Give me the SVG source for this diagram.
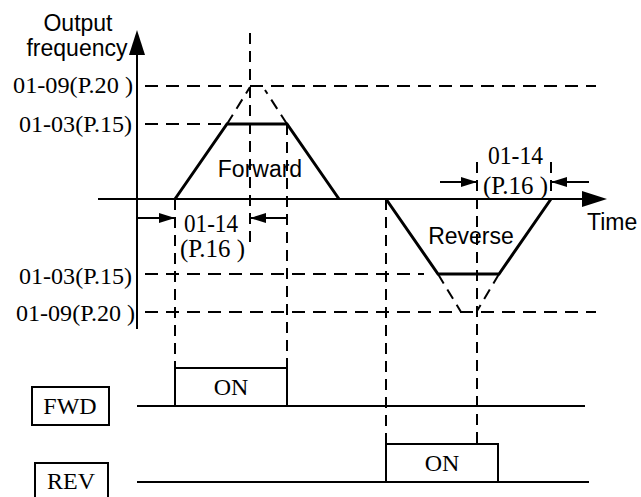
<svg xmlns="http://www.w3.org/2000/svg" width="641" height="497" viewBox="0 0 641 497">
<style>
.sans{font-family:"Liberation Sans",Arial,sans-serif;font-size:23px;fill:#000}
.serif{font-family:"Liberation Serif","Times New Roman",serif;font-size:24px;fill:#000}
.big{font-size:25px}
.ax{stroke:#000;stroke-width:2;fill:none}
.thick{stroke:#000;stroke-width:3;fill:none;stroke-linejoin:miter}
.dash{stroke:#000;stroke-width:2;fill:none;stroke-dasharray:13 8}
.vdash{stroke:#000;stroke-width:2;fill:none;stroke-dasharray:11 7}
.box{stroke:#000;stroke-width:2;fill:#fff}
.sig{stroke:#000;stroke-width:2;fill:none}
</style>
<defs>
<marker id="ah" viewBox="0 0 16 10" refX="16" refY="5" markerWidth="16" markerHeight="10" markerUnits="userSpaceOnUse" orient="auto">
<path d="M0,0 L16,5 L0,10 z" fill="#000"/>
</marker>
</defs>
<rect width="641" height="497" fill="#fff"/>

<g id="axes">
<line class="ax" x1="137" y1="52" x2="137" y2="329"/>
<path d="M137,30 L145,55 L129,55 z" fill="#000"/>
<line class="ax" x1="98" y1="199" x2="584" y2="199"/>
<path d="M607,199 L582,191 L582,207 z" fill="#000"/>
</g>

<g id="connectors">
<line class="dash" x1="145" y1="86" x2="596" y2="86"/>
<line class="dash" x1="145" y1="124" x2="228" y2="124"/>
<line class="dash" x1="145" y1="274" x2="424" y2="274"/>
<line class="dash" x1="145" y1="312" x2="596" y2="312"/>
<line class="vdash" x1="250" y1="33" x2="250" y2="246"/>
<line class="vdash" x1="287" y1="124" x2="287" y2="368"/>
<line class="vdash" x1="175" y1="199" x2="175" y2="368"/>
<line class="vdash" x1="386" y1="199" x2="386" y2="444"/>
<line class="vdash" x1="477" y1="162" x2="477" y2="444"/>
<line class="vdash" x1="551" y1="162" x2="551" y2="199"/>
<line class="vdash" x1="227" y1="124" x2="250" y2="87"/>
<line class="vdash" x1="287" y1="124" x2="265" y2="90"/>
<line class="vdash" x1="438" y1="274" x2="461" y2="312"/>
<line class="vdash" x1="499" y1="274" x2="477" y2="311"/>
<line class="ax" x1="137" y1="218" x2="175" y2="218" marker-end="url(#ah)"/>
<line class="ax" x1="287" y1="218" x2="250" y2="218" marker-end="url(#ah)"/>
<line class="ax" x1="440" y1="182" x2="477" y2="182" marker-end="url(#ah)"/>
<line class="ax" x1="589" y1="182" x2="551" y2="182" marker-end="url(#ah)"/>
</g>

<g id="forward-profile">
<polyline class="thick" points="175,199 227,124 287,124 339,199"/>
<text class="sans" x="260" y="177" text-anchor="middle">Forward</text>
</g>

<g id="reverse-profile">
<polyline class="thick" points="386,199 438,274 499,274 551,199"/>
<text class="sans" x="471" y="244" text-anchor="middle">Reverse</text>
</g>

<g id="axis-labels">
<text class="sans" x="78" y="31" text-anchor="middle">Output</text>
<text class="sans" x="77" y="56" text-anchor="middle">frequency</text>
<text class="sans" x="587" y="230">Time</text>
</g>

<g id="level-labels">
<text class="serif" x="13" y="93" textLength="120" lengthAdjust="spacingAndGlyphs">01-09(P.20 )</text>
<text class="serif" x="19" y="132" textLength="113" lengthAdjust="spacingAndGlyphs">01-03(P.15)</text>
<text class="serif" x="19" y="284" textLength="113" lengthAdjust="spacingAndGlyphs">01-03(P.15)</text>
<text class="serif" x="16" y="321" textLength="119" lengthAdjust="spacingAndGlyphs">01-09(P.20 )</text>
</g>

<g id="accel-label">
<text class="serif big" x="184" y="232" textLength="54" lengthAdjust="spacingAndGlyphs">01-14</text>
<text class="serif big" x="180" y="257" textLength="65" lengthAdjust="spacingAndGlyphs">(P.16 )</text>
</g>

<g id="decel-label">
<text class="serif big" x="488" y="164" textLength="55" lengthAdjust="spacingAndGlyphs">01-14</text>
<text class="serif big" x="483" y="194" textLength="65" lengthAdjust="spacingAndGlyphs">(P.16 )</text>
</g>

<g id="fwd-signal">
<rect class="box" x="32" y="387" width="77" height="38"/>
<text class="serif" x="70" y="414" text-anchor="middle">FWD</text>
<line class="sig" x1="137" y1="406" x2="585" y2="406"/>
<polyline class="sig" points="175,406 175,368 287,368 287,406"/>
<text class="serif" x="231" y="395" text-anchor="middle">ON</text>
</g>

<g id="rev-signal">
<rect class="box" x="35" y="463" width="73" height="40"/>
<text class="serif" x="71" y="489" text-anchor="middle">REV</text>
<line class="sig" x1="137" y1="482" x2="589" y2="482"/>
<polyline class="sig" points="386,482 386,444 498,444 498,482"/>
<text class="serif" x="442" y="471" text-anchor="middle">ON</text>
</g>
</svg>
